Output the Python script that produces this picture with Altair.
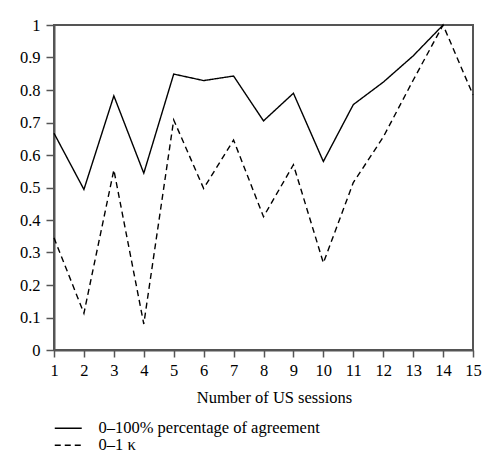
import altair as alt
import pandas as pd

sessions = list(range(1, 16))
agreement = [0.667, 0.494, 0.782, 0.544, 0.849, 0.829, 0.843, 0.705, 0.790, 0.580, 0.755, 0.824, 0.905, 1.0, None]
kappa = [0.345, 0.113, 0.554, 0.080, 0.708, 0.497, 0.646, 0.410, 0.570, 0.268, 0.515, 0.655, 0.830, 1.0, 0.785]
series_names = ["0\u2013100% percentage of agreement", "0\u20131 \u03ba"]

rows = []
for s, a, k in zip(sessions, agreement, kappa):
    if a is not None:
        rows.append({"session": s, "value": a, "series": series_names[0]})
    rows.append({"session": s, "value": k, "series": series_names[1]})
df = pd.DataFrame(rows)

FONT = "Liberation Serif"
GRAY = "#555555"
FS = 16.5

chart = alt.Chart(df).mark_line(color="black", strokeWidth=1.4).encode(
    x=alt.X("session:Q",
            scale=alt.Scale(domain=[1, 15], nice=False),
            axis=alt.Axis(values=sessions, title="Number of US sessions",
                          grid=False, tickSize=7, labelPadding=5,
                          titlePadding=11, titleX=220, format="d", labelFlush=False)),
    y=alt.Y("value:Q",
            scale=alt.Scale(domain=[0, 1], nice=False),
            axis=alt.Axis(values=[i / 10 for i in range(11)], title=None,
                          grid=False, tickSize=8, labelPadding=6,
                          format=".1~f", labelFlush=False)),
    strokeDash=alt.StrokeDash("series:N",
                              scale=alt.Scale(domain=series_names, range=[[1, 0], [6, 4]]),
                              legend=alt.Legend(title=None, orient="none",
                                                legendX=6, legendY=395,
                                                symbolType="M-2,0H2", symbolSize=182,
                                                symbolStrokeColor="black",
                                                symbolStrokeWidth=1.4,
                                                labelFontSize=FS, labelFont=FONT,
                                                labelColor="black", labelLimit=0,
                                                labelOffset=22, rowPadding=-5)),
    detail="series:N",
).properties(
    width=419, height=325,
    padding={"left": 46, "top": 17, "right": 19, "bottom": 115},
    autosize=alt.AutoSizeParams(type="none"),
).configure_view(
    stroke=GRAY, strokeWidth=2
).configure_axis(
    labelFont=FONT, titleFont=FONT, labelFontSize=FS, titleFontSize=FS,
    labelColor="black", titleColor="black", titleFontWeight="normal",
    domainColor=GRAY, domainWidth=2, tickColor=GRAY, tickWidth=1.5,
)

chart.save("out.html", embed_options={"renderer": "svg", "actions": False})
